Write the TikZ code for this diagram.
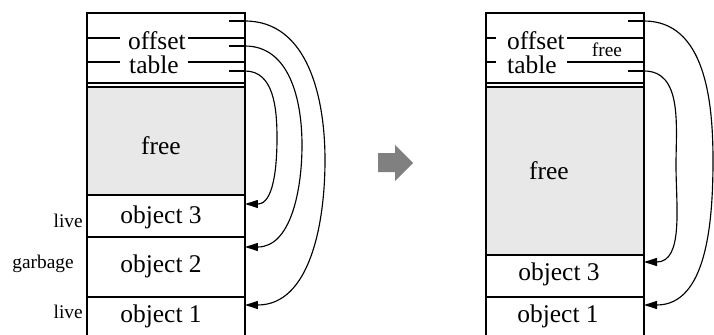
\documentclass[tikz,border=0pt]{standalone}
\usepackage{fontspec}
\setmainfont{Liberation Serif}
\usetikzlibrary{arrows.meta, positioning, calc}
\tikzset{
  wall/.style={line width=1.5pt},
  rule/.style={line width=0.65pt},
  ptr/.style={line width=0.65pt, -{Triangle[length=2.6mm,width=1.6mm]}},
  big/.style={anchor=base, inner sep=0pt, font=\fontsize{14.5}{17}\selectfont},
  small/.style={anchor=base, inner sep=0pt, font=\fontsize{11}{13}\selectfont},
}

\begin{document}
\begin{tikzpicture}[x=0.02cm, y=-0.02cm]
      \useasboundingbox (0,0) rectangle (714,335);
      % before compaction
      \fill[black!9] (87,87) rectangle (245,195);
      \draw[wall] (87,350) -- (87,13) -- (245,13) -- (245,350);
      \draw[wall] (87,83) -- (245,83);
      \draw[rule] (87,87) -- (245,87);
      \draw[wall] (87,195) -- (245,195);
      \draw[wall] (87,237) -- (245,237);
      \draw[wall] (87,297) -- (245,297);
      \node[big] (off1) at (157,49) {offset};
      \node[big] (tab1) at (154,73) {table};
      \draw[rule] (87,38) -- (120,38);
      \draw[rule] (188,38) -- (245,38);
      \draw[rule] (87,62) -- (120,62);
      \draw[rule] (188,62) -- (245,62);
      \node[big] (free1) at (161,154) {free};
      \node[big] (obj3) at (161,223) {object 3};
      \node[big] (obj2) at (161,272) {object 2};
      \node[big] (obj1) at (161,322) {object 1};
      \node[small, anchor=base east] (live3) at (83,227) {live};
      \node[small] (garb2) at (43,268) {garbage};
      \node[small, anchor=base east] (live1) at (83,318) {live};
      \coordinate (s1) at (245,21);
      \coordinate (s2) at (245,46);
      \coordinate (s3) at (245,71);
      \coordinate (t1) at (245,305);
      \coordinate (t2) at (245,247);
      \coordinate (t3) at (245,204);
      \draw[rule] (229,21) -- (s1);
      \draw[rule] (229,46) -- (s2);
      \draw[rule] (229,71) -- (s3);
      \draw[ptr] (s1) to[out=0,in=90] (325,160) to[out=-90,in=0] (t1);
      \draw[ptr] (s2) to[out=0,in=90] (302,145) to[out=-90,in=0] (t2);
      \draw[ptr] (s3) to[out=0,in=90] (277,138) to[out=-90,in=0] (t3);
      % arrow between the two states
      \fill[black!50] (378,153) -- (395,153) -- (395,145) -- (413,163)
        -- (395,181) -- (395,172) -- (378,172) -- cycle;
      % after compaction
      \fill[black!9] (486,87) rectangle (644,255);
      \draw[wall] (486,350) -- (486,13) -- (644,13) -- (644,350);
      \draw[wall] (486,83) -- (644,83);
      \draw[rule] (486,87) -- (644,87);
      \draw[wall] (486,255) -- (644,255);
      \draw[wall] (486,297) -- (644,297);
      \node[big] (off2) at (536,49) {offset};
      \node[big] (tab2) at (532,73) {table};
      \node[small] (free3) at (607,56) {free};
      \draw[rule] (486,38) -- (496,38);
      \draw[rule] (567,38) -- (644,38);
      \draw[rule] (486,62) -- (496,62);
      \draw[rule] (567,62) -- (644,62);
      \node[big] (free2) at (549,179) {free};
      \node[big] (obj3b) at (559,280) {object 3};
      \node[big] (obj1b) at (558,322) {object 1};
      \coordinate (u1) at (644,21);
      \coordinate (u3) at (644,71);
      \coordinate (v1) at (644,305);
      \coordinate (v3) at (644,262);
      \draw[rule] (628,21) -- (u1);
      \draw[rule] (628,71) -- (u3);
      \draw[ptr] (u1) to[out=0,in=90] (713,160) to[out=-90,in=0] (v1);
      \draw[ptr] (u3) to[out=0,in=90] (676,165) to[out=-90,in=0] (v3);
\end{tikzpicture}
\end{document}
